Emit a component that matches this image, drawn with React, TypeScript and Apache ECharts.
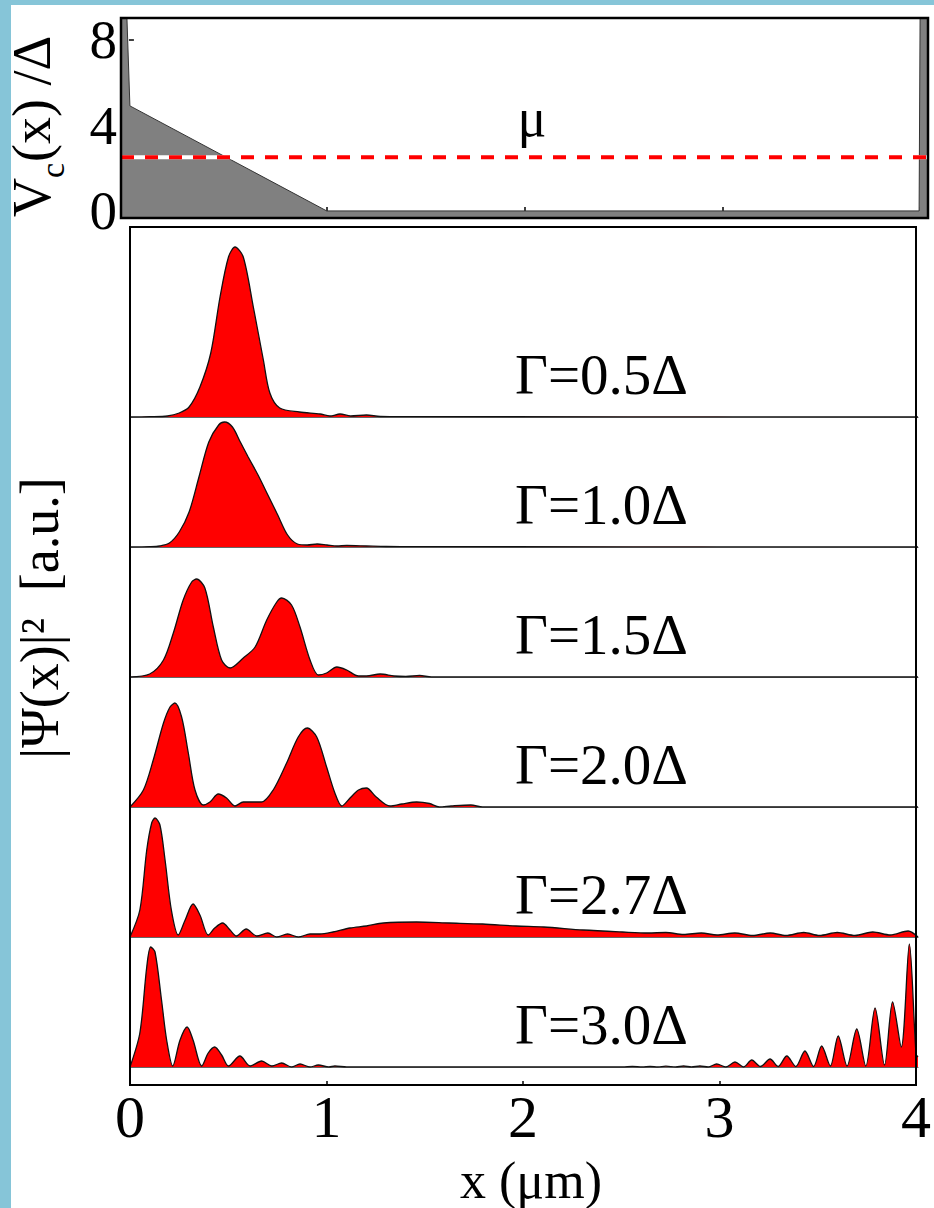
import { useEffect, useRef } from "react";
import * as echarts from "echarts";

const FONT = "'Liberation Serif', 'Times New Roman', serif";

// tick values
const xTicks = [0, 1, 2, 3, 4];
const vTicks = [0, 4, 8];

// confinement potential V_c(x)/Δ and chemical potential μ
const potential: [number, number][] = [
  [-0.04, 9], [-0.01, 9], [0.005, 4.9], [1.0, 0], [3.995, 0], [4.0, 9], [4.04, 9],
];
const mu = 2.5;

const gammaLabels = ["Γ=0.5Δ", "Γ=1.0Δ", "Γ=1.5Δ", "Γ=2.0Δ", "Γ=2.7Δ", "Γ=3.0Δ"];

// |Ψ(x)|² [a.u.] for each Γ
const psi05: [number, number][] = [
  [0, 0], [0.1, 0.003], [0.19, 0.01], [0.25, 0.04], [0.3, 0.1], [0.355, 0.3], [0.41, 0.64],
  [0.457, 1.2], [0.5, 1.6], [0.533, 1.7], [0.575, 1.6], [0.626, 1.1], [0.677, 0.57], [0.71, 0.24],
  [0.76, 0.09], [0.86, 0.05], [0.965, 0.03], [1.015, 0.01], [1.066, 0.03], [1.12, 0.01],
  [1.2, 0.02], [1.27, 0.005], [1.4, 0.003], [4, 0],
];
const psi10: [number, number][] = [
  [0, 0], [0.1, 0.003], [0.15, 0.01], [0.2, 0.04], [0.25, 0.15], [0.3, 0.35], [0.35, 0.7],
  [0.4, 1.05], [0.45, 1.22], [0.48, 1.25], [0.52, 1.2], [0.56, 1.05], [0.6, 0.9], [0.65, 0.72],
  [0.7, 0.52], [0.75, 0.32], [0.8, 0.12], [0.85, 0.03], [0.9, 0.02], [0.95, 0.03], [1.0, 0.02],
  [1.05, 0.01], [1.1, 0.015], [1.2, 0.01], [1.3, 0.005], [1.45, 0.003], [4, 0],
];
const psi15: [number, number][] = [
  [0, 0], [0.1, 0.03], [0.17, 0.17], [0.22, 0.44], [0.27, 0.77], [0.313, 0.95], [0.338, 0.98],
  [0.38, 0.89], [0.423, 0.5], [0.465, 0.17], [0.508, 0.09], [0.575, 0.19], [0.635, 0.3],
  [0.694, 0.57], [0.745, 0.75], [0.77, 0.79], [0.82, 0.72], [0.863, 0.5], [0.914, 0.17],
  [0.956, 0.02], [0.998, 0.04], [1.05, 0.1], [1.1, 0.07], [1.16, 0.01], [1.2, 0.01], [1.27, 0.03],
  [1.34, 0.01], [1.4, 0.005], [1.47, 0.015], [1.53, 0], [4, 0],
];
const psi20: [number, number][] = [
  [0, 0], [0.068, 0.17], [0.118, 0.47], [0.17, 0.84], [0.203, 1.0], [0.228, 1.04], [0.262, 0.9],
  [0.296, 0.54], [0.33, 0.17], [0.372, 0.02], [0.406, 0.05], [0.448, 0.13], [0.49, 0.09],
  [0.533, 0.01], [0.575, 0.05], [0.626, 0.05], [0.668, 0.05], [0.727, 0.17], [0.795, 0.44],
  [0.854, 0.7], [0.9, 0.79], [0.948, 0.7], [0.998, 0.4], [1.04, 0.14], [1.075, 0.01],
  [1.117, 0.09], [1.16, 0.17], [1.2, 0.19], [1.25, 0.1], [1.32, 0.01], [1.38, 0.03],
  [1.455, 0.05], [1.52, 0.035], [1.57, 0], [1.63, 0.01], [1.73, 0.02], [1.79, 0], [4, 0],
];
const psi27: [number, number][] = [
  [0, 0], [0.05, 0.27], [0.085, 0.87], [0.11, 1.14], [0.127, 1.19], [0.152, 1.12], [0.178, 0.77],
  [0.21, 0.27], [0.245, 0.02], [0.28, 0.17], [0.32, 0.33], [0.355, 0.22], [0.397, 0.02],
  [0.43, 0.09], [0.47, 0.14], [0.508, 0.07], [0.54, 0.01], [0.59, 0.08], [0.643, 0.01],
  [0.7, 0.04], [0.745, 0], [0.8, 0.03], [0.855, 0], [0.914, 0.03], [0.964, 0.03], [1.03, 0.05],
  [1.117, 0.09], [1.2, 0.11], [1.286, 0.14], [1.455, 0.15], [1.62, 0.14], [1.79, 0.13],
  [1.96, 0.11], [2.1, 0.1], [2.3, 0.07], [2.5, 0.05], [2.63, 0.04], [2.72, 0.045], [2.81, 0.025],
  [2.9, 0.04], [2.98, 0.02], [3.07, 0.04], [3.16, 0.015], [3.25, 0.04], [3.33, 0.015],
  [3.42, 0.045], [3.5, 0.015], [3.59, 0.045], [3.68, 0.015], [3.77, 0.05], [3.86, 0.02],
  [3.95, 0.06], [4, 0],
];
const psi30: [number, number][] = [
  [0, 0], [0.05, 0.34], [0.085, 1.0], [0.105, 1.2], [0.127, 1.15], [0.16, 0.67], [0.186, 0.27],
  [0.217, 0.01], [0.254, 0.27], [0.29, 0.4], [0.32, 0.27], [0.364, 0.01], [0.397, 0.14],
  [0.43, 0.2], [0.465, 0.12], [0.5, 0.01], [0.558, 0.11], [0.61, 0.01], [0.668, 0.06],
  [0.72, 0.01], [0.77, 0.04], [0.82, 0], [0.863, 0.03], [0.914, 0], [0.956, 0.02], [1.01, 0],
  [1.04, 0.01], [1.1, 0], [2.5, 0], [2.55, 0.005], [2.6, 0], [2.64, 0.005], [2.68, 0],
  [2.72, 0.008], [2.77, 0], [2.81, 0.01], [2.85, 0], [2.893, 0.01], [2.935, 0], [2.978, 0.03],
  [3.025, 0], [3.071, 0.05], [3.115, 0], [3.156, 0.07], [3.2, 0.005], [3.249, 0.08],
  [3.29, 0.005], [3.334, 0.11], [3.38, 0.005], [3.426, 0.16], [3.47, 0.005], [3.511, 0.21],
  [3.555, 0.01], [3.595, 0.31], [3.64, 0.01], [3.689, 0.38], [3.735, 0.01], [3.782, 0.59],
  [3.83, 0.02], [3.871, 0.65], [3.915, 0.2], [3.956, 1.23], [3.99, 0.13], [4, 0.1],
];
const psiSeries = [psi05, psi10, psi15, psi20, psi27, psi30];

export default function App() {
  const ref = useRef<HTMLDivElement>(null);

  useEffect(() => {
    if (!ref.current) return;
    const chart = echarts.init(ref.current, null, { renderer: "svg" });

    const PL = 130;
    const PW = 788;
    const baselines = [417, 547, 677, 807, 937, 1067];
    const panelH = 190;
    const yMaxPanel = 1.9;

    const grids: any[] = [
      { left: 121, top: 18, width: 807, height: 200, show: true, borderColor: "#000", borderWidth: 2.5, backgroundColor: "transparent", z: 5 },
    ];
    const xAxes: any[] = [
      {
        gridIndex: 0, type: "value", min: -0.04, max: 4.04,
        axisLine: { show: false },
        axisTick: { show: true, inside: true, length: 4, customValues: xTicks, lineStyle: { color: "#000", width: 1.5 } },
        axisLabel: { show: false }, splitLine: { show: false },
      },
    ];
    const yAxes: any[] = [
      {
        gridIndex: 0, type: "value", min: -0.33, max: 9,
        axisLine: { show: false },
        axisTick: { show: true, inside: true, length: 5, customValues: vTicks, lineStyle: { color: "#000", width: 1.5 } },
        axisLabel: { show: true, customValues: vTicks, fontSize: 55, fontFamily: FONT, color: "#000", margin: 4 },
        splitLine: { show: false },
      },
    ];
    const series: any[] = [
      {
        type: "line", xAxisIndex: 0, yAxisIndex: 0, data: potential, symbol: "none",
        lineStyle: { color: "#333", width: 1 },
        areaStyle: { color: "#808080", opacity: 1, origin: "start" },
      },
      {
        type: "line", xAxisIndex: 0, yAxisIndex: 0, data: [[-0.04, mu], [4.04, mu]], symbol: "none",
        lineStyle: { color: "#ffffff", width: 4 },
      },
      {
        type: "line", xAxisIndex: 0, yAxisIndex: 0, data: [[-0.04, mu], [4.04, mu]], symbol: "none",
        lineStyle: { color: "#ff0000", width: 4, type: [13, 11] },
      },
    ];

    psiSeries.forEach((d, i) => {
      grids.push({ left: PL, width: PW, top: baselines[i] - panelH, height: panelH });
      xAxes.push({
        gridIndex: i + 1, type: "value", min: 0, max: 4,
        axisLine: { show: true, lineStyle: { color: "#666", width: 1.2 } },
        axisTick: { show: false }, axisLabel: { show: false }, splitLine: { show: false },
      });
      yAxes.push({ gridIndex: i + 1, type: "value", min: 0, max: yMaxPanel, show: false });
      series.push({
        type: "line", xAxisIndex: i + 1, yAxisIndex: i + 1, data: d, symbol: "none", smooth: 0.3,
        lineStyle: { color: "#111", width: 1.3 },
        areaStyle: { color: "#ff0000", opacity: 1, origin: "start" },
      });
    });

    // outer frame with the x axis
    grids.push({ left: PL, width: PW, top: 227, height: 858, show: true, borderColor: "#000", borderWidth: 2, backgroundColor: "transparent", z: 5 });
    xAxes.push({
      gridIndex: 7, type: "value", min: 0, max: 4, interval: 1,
      axisLine: { show: false },
      axisTick: { show: true, inside: true, length: 4, lineStyle: { color: "#000", width: 1.5 } },
      axisLabel: { show: true, fontSize: 60, fontFamily: FONT, color: "#000", margin: 2 },
      splitLine: { show: false },
    });
    yAxes.push({ gridIndex: 7, type: "value", min: 0, max: 1, show: false });

    const txt = (text: string, x: number, y: number, size: number, align = "center", rotation = 0) => ({
      type: "text", x, y, rotation,
      style: {
        text, fontSize: size, fontFamily: FONT, fill: "#000",
        align, textAlign: align, verticalAlign: "middle", textVerticalAlign: "middle",
      },
    });

    const graphic: any[] = [
      { type: "rect", shape: { x: 0, y: 0, width: 11, height: 1208 }, style: { fill: "#86c5d8" } },
      { type: "rect", shape: { x: 0, y: 0, width: 934, height: 5 }, style: { fill: "#86c5d8" } },
      txt("μ", 532, 118, 54),
      txt("x (μm)", 531, 1180, 52),
      txt("|Ψ(x)|²  [a.u.]", 40, 618, 54, "center", Math.PI / 2),
      {
        type: "group", x: 50, y: 217, rotation: Math.PI / 2,
        children: [
          txt("V", 0, -18, 54, "left"),
          txt("c", 39, 2.5, 34, "left"),
          txt("(x) /Δ", 55, -18, 54, "left"),
        ],
      },
      ...gammaLabels.map((g, i) => txt(g, 515, baselines[i] - 43, 57, "left")),
    ];

    chart.setOption({
      animation: false,
      backgroundColor: "#ffffff",
      grid: grids,
      xAxis: xAxes,
      yAxis: yAxes,
      series,
      graphic,
    });

    return () => chart.dispose();
  }, []);

  return (
    <div
      ref={ref}
      style={{ position: "absolute", left: 0, top: 0, width: 934, height: 1208, background: "#fff" }}
    />
  );
}
